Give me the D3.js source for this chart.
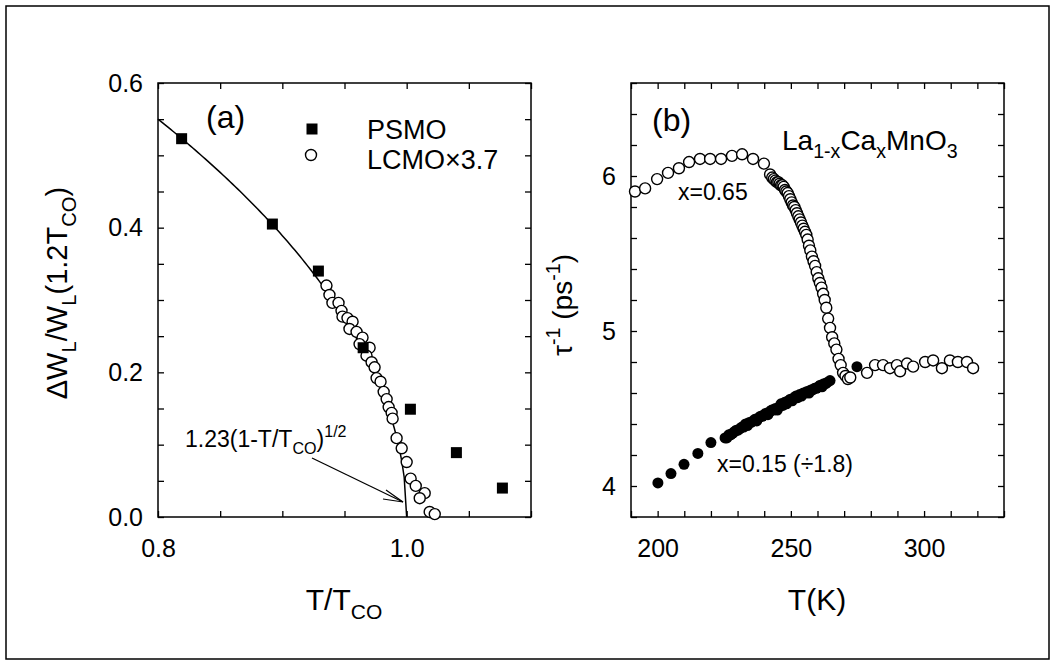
<!DOCTYPE html>
<html>
<head>
<meta charset="utf-8">
<script src="https://cdn.jsdelivr.net/npm/d3@7"></script>
<style>
  body { margin: 0; background: #fff; }
  svg { display: block; }
  text { font-family: "Liberation Sans", Arial, sans-serif; fill: #000; }
</style>
</head>
<body>
<svg id="chart" width="1055" height="665"></svg>
<script>
// ---- panel (a): line-width change vs reduced temperature ----
const psmoT = [0.819, 0.892, 0.929, 0.965, 1.003, 1.040, 1.077];
const psmoW = [0.523, 0.405, 0.340, 0.234, 0.149, 0.089, 0.040];

const lcmoT = [0.9355, 0.9379, 0.9403, 0.9452, 0.9476, 0.9484, 0.9524, 0.9565, 0.9540, 0.9597,
               0.9645, 0.9621, 0.9702, 0.9677, 0.9718, 0.9742, 0.9758, 0.9790, 0.9815, 0.9839,
               0.9855, 0.9879, 0.9887, 0.9919, 0.9960, 1.0000, 1.0032, 1.0073, 1.0145, 1.0105,
               1.0185, 1.0226];
const lcmoW = [0.320, 0.307, 0.296, 0.296, 0.285, 0.277, 0.275, 0.270, 0.260, 0.256,
               0.248, 0.239, 0.234, 0.223, 0.214, 0.207, 0.192, 0.187, 0.173, 0.163,
               0.152, 0.144, 0.136, 0.109, 0.095, 0.076, 0.053, 0.043, 0.033, 0.026,
               0.007, 0.004];

const fitCoef = 1.23;   // 1.23(1-T/Tco)^1/2

const aXTicks = [0.8, 0.85, 0.9, 0.95, 1.0, 1.05, 1.1];
const aXLabels = [0.8, 1.0];
const aYTicks = [0, 0.05, 0.1, 0.15, 0.2, 0.25, 0.3, 0.35, 0.4, 0.45, 0.5, 0.55, 0.6];
const aYLabels = [0, 0.2, 0.4, 0.6];

// ---- panel (b): scattering rate vs temperature ----
const x65T = [191.5, 195.3, 199.8, 203.9, 208.0, 211.8, 215.9, 219.7, 223.8, 227.9,
              231.7, 235.8, 239.9, 242.2, 243.0, 243.6, 244.2, 244.8, 245.3, 245.8,
              246.3, 246.8, 247.3, 247.8, 248.3, 248.8, 249.3, 249.8, 250.3, 250.8,
              251.3, 251.8, 252.3, 252.8, 253.3, 253.8, 254.3, 254.8, 255.3, 255.8,
              256.3, 256.8, 257.3, 257.9, 258.5, 259.1, 259.7, 260.3, 260.9, 261.5,
              262.1, 262.7, 263.3, 264.0, 264.7, 265.5, 266.3, 267.1, 267.9, 268.7,
              269.6, 270.5, 271.4, 272.3, 278.6, 281.6, 284.6, 287.2, 289.8, 291.0,
              293.6, 295.9, 300.4, 303.4, 306.7, 309.7, 312.7, 316.1, 318.4];
const x65Rate = [5.90, 5.92, 5.98, 6.02, 6.05, 6.09, 6.11, 6.11, 6.11, 6.13,
                 6.14, 6.11, 6.08, 6.01, 5.99, 5.98, 5.97, 5.96, 5.96, 5.95,
                 5.94, 5.94, 5.93, 5.91, 5.90, 5.89, 5.87, 5.85, 5.83, 5.81,
                 5.80, 5.78, 5.76, 5.74, 5.72, 5.70, 5.68, 5.66, 5.64, 5.62,
                 5.59, 5.55, 5.52, 5.48, 5.45, 5.42, 5.38, 5.34, 5.31, 5.28,
                 5.24, 5.20, 5.15, 5.08, 5.02, 4.96, 4.92, 4.88, 4.82, 4.78,
                 4.73, 4.71, 4.69, 4.70, 4.73, 4.78, 4.78, 4.76, 4.78, 4.74,
                 4.79, 4.77, 4.80, 4.81, 4.76, 4.81, 4.80, 4.80, 4.76];

const x15T = [200.1, 205.0, 209.9, 215.1, 220.0, 225.3, 226.0, 226.7, 227.4, 228.1,
              228.8, 229.5, 230.2, 230.9, 231.6, 232.3, 233.0, 233.7, 234.4, 235.1,
              235.8, 236.5, 237.2, 237.9, 238.6, 239.3, 240.0, 240.7, 241.4, 242.1,
              242.8, 243.5, 244.2, 244.9, 245.6, 246.3, 247.0, 247.7, 248.4, 249.1,
              249.8, 250.5, 251.2, 251.9, 252.6, 253.3, 254.0, 254.7, 255.4, 256.1,
              256.8, 257.5, 258.2, 258.9, 259.6, 260.3, 261.0, 261.7, 262.4, 263.1,
              263.8, 264.7, 274.8];
const x15Rate = [4.02, 4.08, 4.14, 4.21, 4.28, 4.31, 4.31, 4.33, 4.33, 4.34,
                 4.35, 4.36, 4.36, 4.37, 4.38, 4.38, 4.40, 4.39, 4.41, 4.41,
                 4.42, 4.43, 4.42, 4.44, 4.45, 4.45, 4.46, 4.47, 4.46, 4.48,
                 4.49, 4.49, 4.50, 4.49, 4.51, 4.53, 4.52, 4.54, 4.53, 4.55,
                 4.56, 4.55, 4.57, 4.58, 4.57, 4.59, 4.58, 4.60, 4.60, 4.61,
                 4.60, 4.62, 4.62, 4.63, 4.63, 4.64, 4.65, 4.64, 4.66, 4.66,
                 4.67, 4.68, 4.77];

const bXTicks = [190, 200, 210, 220, 230, 240, 250, 260, 270, 280, 290, 300, 310, 320, 330];
const bXLabels = [200, 250, 300];
const bYTicks = [3.8, 4.0, 4.2, 4.4, 4.6, 4.8, 5.0, 5.2, 5.4, 5.6, 5.8, 6.0, 6.2, 6.4, 6.6];
const bYLabels = [4, 5, 6];

const svg = d3.select("#chart");

// outer border of the figure
svg.append("rect")
  .attr("x", 6).attr("y", 6).attr("width", 1043).attr("height", 653)
  .attr("fill", "none").attr("stroke", "#000").attr("stroke-width", 1.5);

const has = (arr, d) => arr.some(v => Math.abs(v - d) < 1e-9);

function panel(x0, x1, xDomain, xTicks, xLabels, xFmt, yDomain, yTicks, yLabels, yFmt) {
  const top = 83, bottom = 517;
  const x = d3.scaleLinear().domain(xDomain).range([x0, x1]);
  const y = d3.scaleLinear().domain(yDomain).range([bottom, top]);
  const g = svg.append("g");

  const axes = [
    g.append("g").attr("transform", `translate(0,${bottom})`)
      .call(d3.axisBottom(x).tickValues(xTicks).tickSize(-6).tickPadding(22)
        .tickFormat(d => has(xLabels, d) ? xFmt(d) : "")),
    g.append("g").attr("transform", `translate(0,${top})`)
      .call(d3.axisTop(x).tickValues(xTicks).tickSize(-6).tickFormat("")),
    g.append("g").attr("transform", `translate(${x0},0)`)
      .call(d3.axisLeft(y).tickValues(yTicks).tickSize(-6).tickPadding(15)
        .tickFormat(d => has(yLabels, d) ? yFmt(d) : "")),
    g.append("g").attr("transform", `translate(${x1},0)`)
      .call(d3.axisRight(y).tickValues(yTicks).tickSize(-6).tickFormat(""))
  ];
  axes.forEach(a => {
    a.select(".domain").remove();
    a.selectAll(".tick line").attr("stroke", "#000").attr("stroke-width", 1.3);
    a.selectAll("text").attr("font-size", 25).attr("font-family", '"Liberation Sans", Arial, sans-serif');
  });

  g.append("rect")
    .attr("x", x0).attr("y", top).attr("width", x1 - x0).attr("height", bottom - top)
    .attr("fill", "none").attr("stroke", "#000").attr("stroke-width", 1.5);

  return { x, y, g };
}

// text with sub/superscripts: parts = [[string, "sub"|"sup"|null], ...]
function rich(x, y, parts, size, anchor, rotate) {
  const t = svg.append("text")
    .attr("x", x).attr("y", y)
    .attr("font-size", size)
    .attr("text-anchor", anchor || "start");
  if (rotate) t.attr("transform", `rotate(-90,${x},${y})`);
  let shift = 0;
  parts.forEach(([s, k]) => {
    const target = k === "sub" ? size * 0.3 : k === "sup" ? -size * 0.42 : 0;
    t.append("tspan")
      .attr("dy", target - shift)
      .attr("font-size", k ? size * 0.7 : size)
      .text(s);
    shift = target;
  });
  return t;
}

// ---------- panel (a) ----------
const A = panel(158, 531, [0.8, 1.1], aXTicks, aXLabels, d3.format(".1f"),
                [0, 0.6], aYTicks, aYLabels, d3.format(".1f"));

const fitPts = d3.range(0.8, 1.00001, 0.002).map(t => [t, fitCoef * Math.sqrt(Math.max(0, 1 - t))]);
fitPts.push([1.0, 0]);
A.g.append("path")
  .attr("d", d3.line().x(d => A.x(d[0])).y(d => A.y(d[1]))(fitPts))
  .attr("fill", "none").attr("stroke", "#000").attr("stroke-width", 1.5);

A.g.selectAll(".lcmo").data(lcmoT).join("circle")
  .attr("cx", d => A.x(d)).attr("cy", (d, i) => A.y(lcmoW[i])).attr("r", 5.5)
  .attr("fill", "#fff").attr("stroke", "#000").attr("stroke-width", 1.4);

A.g.selectAll(".psmo").data(psmoT).join("rect")
  .attr("x", d => A.x(d) - 5.5).attr("y", (d, i) => A.y(psmoW[i]) - 5.5)
  .attr("width", 11).attr("height", 11).attr("fill", "#000");

// legend
A.g.append("rect").attr("x", 306.5).attr("y", 123.5).attr("width", 11).attr("height", 11).attr("fill", "#000");
A.g.append("circle").attr("cx", 311).attr("cy", 155).attr("r", 5.5)
  .attr("fill", "#fff").attr("stroke", "#000").attr("stroke-width", 1.4);
svg.append("text").attr("x", 367).attr("y", 139).attr("font-size", 27).text("PSMO");
svg.append("text").attr("x", 367).attr("y", 169).attr("font-size", 27).text("LCMO\u00d73.7");

svg.append("text").attr("x", 206).attr("y", 128).attr("font-size", 32).text("(a)");

// fit annotation and arrow
rich(185, 447, [["1.23(1-T/T", null], ["CO", "sub"], [")", null], ["1/2", "sup"]], 23);
A.g.append("line").attr("x1", 312).attr("y1", 458).attr("x2", 403).attr("y2", 502)
  .attr("stroke", "#000").attr("stroke-width", 1.3);
A.g.append("path").attr("d", "M386,490 L403,502 L383,499")
  .attr("fill", "none").attr("stroke", "#000").attr("stroke-width", 1.2);

rich(67, 293, [["\u0394W", null], ["L", "sub"], ["/W", null], ["L", "sub"], ["(1.2T", null], ["CO", "sub"], [")", null]],
     29, "middle", true);
rich(344, 610, [["T/T", null], ["CO", "sub"]], 30, "middle");

// ---------- panel (b) ----------
const B = panel(631, 1004, [190, 330], bXTicks, bXLabels, d3.format("d"),
                [3.8, 6.6], bYTicks, bYLabels, d3.format("d"));

B.g.selectAll(".x15").data(x15T).join("circle")
  .attr("cx", d => B.x(d)).attr("cy", (d, i) => B.y(x15Rate[i])).attr("r", 5.5)
  .attr("fill", "#000");

B.g.selectAll(".x65").data(x65T).join("circle")
  .attr("cx", d => B.x(d)).attr("cy", (d, i) => B.y(x65Rate[i])).attr("r", 5.5)
  .attr("fill", "#fff").attr("stroke", "#000").attr("stroke-width", 1.4);

svg.append("text").attr("x", 652).attr("y", 131).attr("font-size", 32).text("(b)");
rich(782, 150, [["La", null], ["1-x", "sub"], ["Ca", null], ["x", "sub"], ["MnO", null], ["3", "sub"]], 28);
svg.append("text").attr("x", 678).attr("y", 200).attr("font-size", 23).text("x=0.65");
svg.append("text").attr("x", 717).attr("y", 472).attr("font-size", 23).text("x=0.15 (\u00f71.8)");

rich(572, 305, [["\u03c4", null], ["-1", "sup"], [" (ps", null], ["-1", "sup"], [")", null]], 28, "middle", true);
rich(817, 610, [["T(K)", null]], 30, "middle");
</script>
</body>
</html>
